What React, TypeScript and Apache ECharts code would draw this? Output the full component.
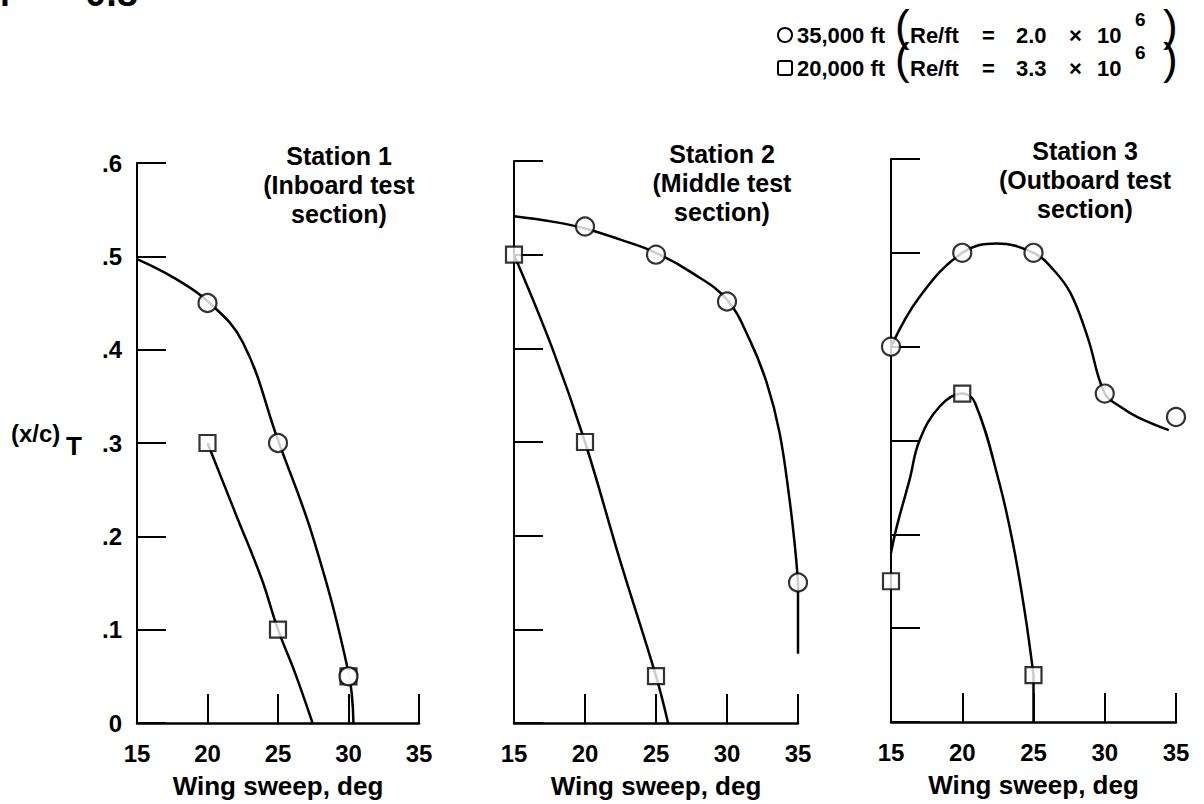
import React, { useEffect, useRef } from "react";
import * as echarts from "echarts";

// ---------- data ----------
const sweepMin = 15;
const sweepMax = 35;
const sweepStep = 5;
const xcMin = 0;
const xcMax = 0.6;
const xcStep = 0.1;

const stationTitles = [
  "Station 1\n(Inboard test\nsection)",
  "Station 2\n(Middle test\nsection)",
  "Station 3\n(Outboard test\nsection)",
];
const xAxisTitle = "Wing sweep, deg";

const legendAltitudes = ["35,000 ft", "20,000 ft"];
const legendRe = ["2.0", "3.3"];

// measured points: circles = 35,000 ft, squares = 20,000 ft
const s1CircleX = [20, 25, 30];
const s1CircleY = [0.45, 0.3, 0.05];
const s1SquareX = [20, 25, 30];
const s1SquareY = [0.3, 0.1, 0.05];

const s2CircleX = [20, 25, 30, 35];
const s2CircleY = [0.53, 0.5, 0.45, 0.15];
const s2SquareX = [15, 20, 25];
const s2SquareY = [0.5, 0.3, 0.05];

const s3CircleX = [15, 20, 25, 30, 35];
const s3CircleY = [0.4, 0.5, 0.5, 0.35, 0.325];
const s3SquareX = [15, 20, 25];
const s3SquareY = [0.15, 0.35, 0.05];

// faired curves
const s1CircleFairX = [15, 17.5, 20, 22.5, 25, 27.5, 30, 30.35];
const s1CircleFairY = [0.497, 0.478, 0.452, 0.408, 0.303, 0.198, 0.054, 0];
const s1SquareFairX = [20, 22, 23.85, 25, 26.2, 27.45];
const s1SquareFairY = [0.3, 0.224, 0.154, 0.1, 0.054, 0];

const s2CircleFairX = [15, 17.8, 20, 22.5, 25, 27.6, 30, 31.6, 32.8, 33.7, 34.4, 34.8, 35];
const s2CircleFairY = [0.541, 0.535, 0.528, 0.516, 0.502, 0.48, 0.452, 0.409, 0.363, 0.31, 0.239, 0.186, 0.15];
const s2CircleTailX = [35, 35];
const s2CircleTailY = [0.15, 0.074];
const s2SquareFairX = [15, 17.7, 20, 22.5, 25, 25.85];
const s2SquareFairY = [0.5, 0.4, 0.3, 0.172, 0.05, 0];

const s3CircleFairX = [15, 17, 20, 22.4, 25, 26.4, 27.6, 28.8, 30, 31.1, 32.3, 34.5];
const s3CircleFairY = [0.4, 0.453, 0.5, 0.51, 0.5, 0.482, 0.457, 0.41, 0.35, 0.336, 0.325, 0.311];
const s3SquareFairX = [15, 15.4, 16.3, 17, 18.4, 20, 20.9, 22.6, 23.6, 24.4, 25];
const s3SquareFairY = [0.18, 0.208, 0.258, 0.3, 0.336, 0.35, 0.34, 0.255, 0.187, 0.116, 0.05];
const s3SquareTailX = [25, 25];
const s3SquareTailY = [0.05, 0];

// ---------- helpers ----------
const FONT = "'Liberation Sans', Arial, Helvetica, sans-serif";
const BLACK = "#000";

const pairs = (xs: number[], ys: number[]) => xs.map((x, i) => [x, ys[i]]);

const grids = [
  { left: 137, top: 163, width: 282, height: 565 },
  { left: 514, top: 161, width: 284, height: 563 },
  { left: 891, top: 159, width: 285, height: 563 },
];

const titleCenters = [
  { x: 339, y: 141 },
  { x: 722, y: 139 },
  { x: 1085, y: 136 },
];

const panels = [
  {
    circles: pairs(s1CircleX, s1CircleY),
    squares: pairs(s1SquareX, s1SquareY),
    curves: [pairs(s1CircleFairX, s1CircleFairY), pairs(s1SquareFairX, s1SquareFairY)],
    tails: [] as number[][][],
  },
  {
    circles: pairs(s2CircleX, s2CircleY),
    squares: pairs(s2SquareX, s2SquareY),
    curves: [pairs(s2CircleFairX, s2CircleFairY), pairs(s2SquareFairX, s2SquareFairY)],
    tails: [pairs(s2CircleTailX, s2CircleTailY)],
  },
  {
    circles: pairs(s3CircleX, s3CircleY),
    squares: pairs(s3SquareX, s3SquareY),
    curves: [pairs(s3CircleFairX, s3CircleFairY), pairs(s3SquareFairX, s3SquareFairY)],
    tails: [pairs(s3SquareTailX, s3SquareTailY)],
  },
];

function txt(
  text: string,
  x: number,
  y: number,
  fontSize: number,
  align: string,
  vAlign: string,
  weight: string = "bold",
  extra: any = {}
) {
  return {
    type: "text",
    x,
    y,
    silent: true,
    style: {
      text,
      fill: BLACK,
      fontSize,
      fontWeight: weight,
      fontFamily: FONT,
      align,
      verticalAlign: vAlign,
      textAlign: align,
      textVerticalAlign: vAlign,
      ...extra,
    },
  };
}

function buildOption() {
  const xAxis = grids.map((_, k) => ({
    type: "value",
    gridIndex: k,
    min: sweepMin,
    max: sweepMax,
    interval: sweepStep,
    axisLine: { show: true, onZero: false, lineStyle: { color: BLACK, width: 2.5 } },
    axisTick: { show: true, inside: true, length: 29, lineStyle: { color: BLACK, width: 2 } },
    axisLabel: {
      show: true,
      color: BLACK,
      fontSize: 24,
      fontWeight: "bold",
      fontFamily: FONT,
      margin: 18,
    },
    splitLine: { show: false },
    name: xAxisTitle,
    nameLocation: "middle",
    nameGap: 50,
    nameTextStyle: { color: BLACK, fontSize: 26, fontWeight: "bold", fontFamily: FONT },
  }));

  const yAxis = grids.map((_, k) => ({
    type: "value",
    gridIndex: k,
    min: xcMin,
    max: xcMax,
    interval: xcStep,
    axisLine: { show: true, onZero: false, lineStyle: { color: BLACK, width: 2 } },
    axisTick: { show: true, inside: true, length: 29, lineStyle: { color: BLACK, width: 2 } },
    axisLabel: {
      show: k === 0,
      color: BLACK,
      fontSize: 24,
      fontWeight: "bold",
      fontFamily: FONT,
      margin: 15,
      formatter: (v: number) => (Math.abs(v) < 1e-9 ? "0" : "." + Math.round(v * 10)),
    },
    splitLine: { show: false },
  }));

  const series: any[] = [];
  panels.forEach((p, k) => {
    p.curves.forEach((c) => {
      series.push({
        type: "line",
        xAxisIndex: k,
        yAxisIndex: k,
        data: c,
        smooth: 0.4,
        symbol: "none",
        clip: false,
        silent: true,
        lineStyle: { color: BLACK, width: 2.5 },
        z: 2,
      });
    });
    p.tails.forEach((c) => {
      series.push({
        type: "line",
        xAxisIndex: k,
        yAxisIndex: k,
        data: c,
        smooth: false,
        symbol: "none",
        clip: false,
        silent: true,
        lineStyle: { color: BLACK, width: 2.5 },
        z: 2,
      });
    });
    series.push({
      name: "20,000 ft",
      type: "scatter",
      xAxisIndex: k,
      yAxisIndex: k,
      data: p.squares,
      symbol: "rect",
      symbolSize: 16,
      clip: false,
      silent: true,
      itemStyle: { color: "#fff", borderColor: BLACK, borderWidth: 2.2 },
      z: 4,
    });
    series.push({
      name: "35,000 ft",
      type: "scatter",
      xAxisIndex: k,
      yAxisIndex: k,
      data: p.circles,
      symbol: "circle",
      symbolSize: 18,
      clip: false,
      silent: true,
      itemStyle: { color: "#fff", borderColor: BLACK, borderWidth: 2.2 },
      z: 5,
    });
  });

  const graphic: any[] = [];

  // Cut-off heading at top left
  graphic.push(txt("M", 10, 12, 38, "right", "bottom"));
  graphic.push(txt("=", 37, 12, 38, "left", "bottom"));
  graphic.push(txt("0.8", 85, 12, 38, "left", "bottom"));

  // Station titles
  stationTitles.forEach((t, k) => {
    graphic.push(
      txt(t, titleCenters[k].x, titleCenters[k].y, 25, "center", "top", "bold", { lineHeight: 29 })
    );
  });

  // Y axis title (x/c)_T
  graphic.push(txt("(x/c)", 11, 433, 24, "left", "middle"));
  graphic.push(txt("T", 66, 446, 26, "left", "middle"));

  // Legend
  const rowY = [35, 68];
  legendAltitudes.forEach((alt, i) => {
    const cy = rowY[i];
    if (i === 0) {
      graphic.push({
        type: "circle",
        silent: true,
        shape: { cx: 785, cy, r: 7 },
        style: { fill: "#fff", stroke: BLACK, lineWidth: 2 },
      });
    } else {
      graphic.push({
        type: "rect",
        silent: true,
        shape: { x: 778, y: cy - 7, width: 14, height: 14, r: 2 },
        style: { fill: "#fff", stroke: BLACK, lineWidth: 2 },
      });
    }
    graphic.push(txt(alt, 797, cy, 22, "left", "middle"));
    graphic.push(txt("(", 895, cy - 10, 44, "left", "middle", "normal"));
    graphic.push(txt("Re/ft", 910, cy, 22, "left", "middle"));
    graphic.push(txt("=", 982, cy, 22, "left", "middle"));
    graphic.push(txt(legendRe[i], 1016, cy, 22, "left", "middle"));
    graphic.push(txt("×", 1069, cy, 22, "left", "middle"));
    graphic.push(txt("10", 1097, cy, 22, "left", "middle"));
    graphic.push(txt("6", 1135, cy - 16, 19, "left", "middle"));
    graphic.push(txt(")", 1163, cy - 10, 44, "left", "middle", "normal"));
  });

  return {
    animation: false,
    backgroundColor: "#fff",
    grid: grids.map((g) => ({ ...g, containLabel: false })),
    xAxis,
    yAxis,
    series,
    graphic,
  };
}

export default function App() {
  const ref = useRef<HTMLDivElement>(null);
  useEffect(() => {
    if (!ref.current) return;
    const chart = echarts.init(ref.current, undefined, { renderer: "svg" });
    chart.setOption(buildOption() as any);
    return () => {
      chart.dispose();
    };
  }, []);
  return (
    <div
      ref={ref}
      style={{
        position: "fixed",
        left: 0,
        top: 0,
        width: 1204,
        height: 804,
        background: "#fff",
      }}
    />
  );
}
